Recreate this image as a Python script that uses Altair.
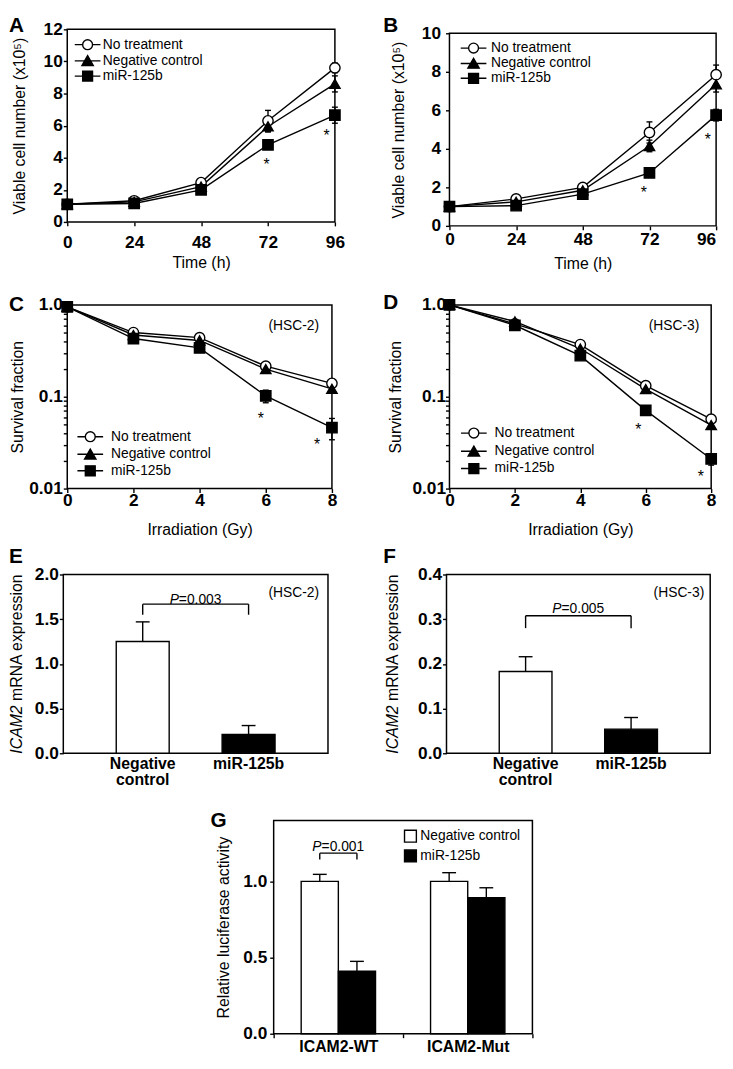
import altair as alt
import pandas as pd

FONT = "Liberation Sans"
LW = 1.4
ONE = pd.DataFrame({"k": [0]})

SERIES = ["No treatment", "Negative control", "miR-125b"]
SHAPES = ["circle", "triangle-up", "square"]
FILLS = ["white", "black", "black"]
LEG_PATHS = [
    "M-2.6,0H-1M1,0H2.6M-1,0A1,1,0,1,1,1,0A1,1,0,1,1,-1,0Z",
    "M-2.6,0H2.6M0,-1.05L1.15,0.95L-1.15,0.95Z",
    "M-2.6,0H2.6M-1,-1H1V1H-1Z",
]

# ---------------- Panel A ----------------
A_TIME = [0, 24, 48, 72, 96]
A_NT = [1.10, 1.32, 2.45, 6.30, 9.60]
A_NT_ERR = [0.05, 0.08, 0.12, 0.65, 0.30]
A_NC = [1.10, 1.25, 2.20, 5.95, 8.60]
A_NC_ERR = [0.05, 0.05, 0.10, 0.35, 0.50]
A_MIR = [1.10, 1.15, 2.00, 4.80, 6.65]
A_MIR_ERR = [0.05, 0.05, 0.10, 0.20, 0.50]
A_STAR_X = [71.5, 93.0]
A_STAR_Y = [3.85, 5.60]
A_Y_TICKS = [0, 2, 4, 6, 8, 10, 12]

# ---------------- Panel B ----------------
B_TIME = [0, 24, 48, 72, 96]
B_NT = [1.00, 1.40, 2.00, 4.85, 7.85]
B_NT_ERR = [0.05, 0.08, 0.10, 0.55, 0.50]
B_NC = [1.00, 1.25, 1.85, 4.15, 7.35]
B_NC_ERR = [0.05, 0.05, 0.10, 0.30, 0.40]
B_MIR = [1.00, 1.05, 1.65, 2.75, 5.75]
B_MIR_ERR = [0.05, 0.05, 0.10, 0.15, 0.30]
B_STAR_X = [70.0, 93.0]
B_STAR_Y = [1.95, 4.70]
B_Y_TICKS = [0, 2, 4, 6, 8, 10]
TIME_TICKS = [0, 24, 48, 72, 96]

# ---------------- Panel C ----------------
DOSE = [0, 2, 4, 6, 8]
C_NT = [0.95, 0.50, 0.44, 0.215, 0.140]
C_NT_ERR = [0.02, 0.03, 0.03, 0.015, 0.015]
C_NC = [0.95, 0.47, 0.41, 0.200, 0.122]
C_NC_ERR = [0.02, 0.02, 0.02, 0.012, 0.012]
C_MIR = [0.95, 0.43, 0.34, 0.102, 0.046]
C_MIR_ERR = [0.02, 0.02, 0.02, 0.016, 0.012]
C_STAR_X = [5.85, 7.55]
C_STAR_Y = [0.064, 0.033]

# ---------------- Panel D ----------------
D_NT = [1.00, 0.62, 0.37, 0.132, 0.057]
D_NT_ERR = [0.02, 0.02, 0.02, 0.008, 0.004]
D_NC = [1.00, 0.66, 0.335, 0.121, 0.049]
D_NC_ERR = [0.02, 0.02, 0.02, 0.008, 0.004]
D_MIR = [1.00, 0.60, 0.28, 0.071, 0.021]
D_MIR_ERR = [0.02, 0.02, 0.02, 0.005, 0.003]
D_STAR_X = [5.77, 7.68]
D_STAR_Y = [0.049, 0.0149]
DOSE_TICKS = [0, 2, 4, 6, 8]
LOG_TICKS = [0.01, 0.02, 0.03, 0.04, 0.05, 0.06, 0.07, 0.08, 0.09,
             0.1, 0.2, 0.3, 0.4, 0.5, 0.6, 0.7, 0.8, 0.9, 1.0]
LOG_LABEL_EXPR = ("datum.value > 0.95 ? '1.0' : (abs(datum.value - 0.1) < 0.001 ? '0.1' : "
                  "(abs(datum.value - 0.01) < 0.0001 ? '0.01' : ''))")

# ---------------- Panels E / F ----------------
EF_CATS = ["Negative control", "miR-125b"]
E_VALS = [1.25, 0.21]
E_ERRS = [0.22, 0.10]
E_BRACKET = [1.55, 1.668]   # leg bottom, bracket top
E_P_Y = 1.71
E_Y_TICKS = [0.0, 0.5, 1.0, 1.5, 2.0]
F_VALS = [0.183, 0.054]
F_ERRS = [0.033, 0.026]
F_BRACKET = [0.280, 0.3077]
F_P_Y = 0.3225
F_Y_TICKS = [0.0, 0.1, 0.2, 0.3, 0.4]

# ---------------- Panel G ----------------
G_GROUPS = ["ICAM2-WT", "ICAM2-Mut"]
G_SERIES = ["Negative control", "miR-125b"]
G_WT = [1.00, 0.41]
G_WT_ERR = [0.046, 0.065]
G_MUT = [1.00, 0.893]
G_MUT_ERR = [0.057, 0.065]
G_BRACKET = [1.143, 1.185]
G_P_Y = 1.228
G_Y_TICKS = [0.0, 0.5, 1.0]


def long_df(xs, vals, errs):
    rows = []
    for s, v, e in zip(SERIES, vals, errs):
        for x, y, d in zip(xs, v, e):
            rows.append({"x": x, "y": y, "lo": y - d, "hi": y + d, "series": s})
    return pd.DataFrame(rows)


def text_layer(text, x, y, size=14, align="left", baseline="alphabetic",
               weight="normal", style="normal", angle=0):
    kw = dict(text=text, font=FONT, fontSize=size, align=align, baseline=baseline,
              fontWeight=weight, fontStyle=style, color="black")
    if angle:
        kw["angle"] = angle
    return alt.Chart(ONE).mark_text(**kw).encode(x=alt.value(x), y=alt.value(y))


def anchor_layer(x, y):
    return alt.Chart(ONE).mark_point(size=0, opacity=0).encode(x=alt.value(x), y=alt.value(y))


def spacer(w, h):
    return (alt.Chart(ONE).mark_point(size=0, opacity=0)
            .encode(x=alt.value(0), y=alt.value(0))
            .properties(width=w, height=h, view=alt.ViewBackground(stroke="transparent")))


def line_panel(xs, vals, errs, star_x, star_y, xdom, xvals, xtitle, ydom, yvals, ylog,
               ytitle, w, h, xlp, xty, ylp, ytx, leg, letter, lpos, hsc=None, anchor=None,
               last_right=False):
    df = long_df(xs, vals, errs)
    sdf = pd.DataFrame({"x": star_x, "y": star_y})
    xscale = alt.Scale(domain=xdom, nice=False, zero=False)
    if ylog:
        yscale = alt.Scale(type="log", domain=ydom, nice=False)
        yextra = {"labelExpr": LOG_LABEL_EXPR}
    else:
        yscale = alt.Scale(domain=ydom, nice=False, zero=False)
        yextra = {"format": "d"}
    xextra = {}
    if last_right:
        # the last tick label is drawn by its own right-aligned text mark below,
        # so that it stays inside the page
        xextra["labelExpr"] = f"datum.value >= {xdom[1]} ? '' : datum.label"
    xaxis = alt.Axis(values=xvals, format="d", title=xtitle, labelPadding=xlp,
                     titleX=w / 2, titleY=xty, labelFlush=False, labelOverlap=False, **xextra)
    yaxis = alt.Axis(values=yvals, title=ytitle, labelPadding=ylp, titleX=ytx,
                     titleY=h / 2, labelOverlap=False, labelFlush=False, **yextra)

    def X(f):
        return alt.X(f"{f}:Q", scale=xscale, axis=xaxis)

    def Y(f):
        return alt.Y(f"{f}:Q", scale=yscale, axis=yaxis)

    legend = alt.Legend(title=None, orient="none", legendX=leg[0], legendY=leg[1],
                        labelFont=FONT, labelFontSize=14, labelColor="black",
                        symbolSize=100, symbolStrokeWidth=LW, symbolStrokeColor="black",
                        labelOffset=leg[2], rowPadding=leg[3], padding=0)
    base = alt.Chart(df)
    layers = [
        base.mark_line(color="black", strokeWidth=LW).encode(X("x"), Y("y"), detail="series:N"),
        base.mark_rule(color="black", strokeWidth=LW).encode(X("x"), Y("lo"), y2="hi:Q"),
        base.mark_tick(color="black", thickness=LW, size=6, opacity=1, orient="horizontal")
            .encode(X("x"), Y("hi")),
        base.mark_tick(color="black", thickness=LW, size=6, opacity=1, orient="horizontal")
            .encode(X("x"), Y("lo")),
        base.mark_point(filled=True, opacity=1, stroke="black", strokeWidth=LW, size=110).encode(
            X("x"), Y("y"),
            shape=alt.Shape("series:N", scale=alt.Scale(domain=SERIES, range=SHAPES), legend=None),
            fill=alt.Fill("series:N", scale=alt.Scale(domain=SERIES, range=FILLS), legend=None),
        ),
        alt.Chart(sdf).mark_text(text="*", font=FONT, fontSize=16, color="black",
                                 baseline="middle", dy=4.5).encode(X("x"), Y("y")),
        base.transform_filter("false").mark_point(filled=True, opacity=1, strokeWidth=LW).encode(
            shape=alt.Shape("series:N", scale=alt.Scale(domain=SERIES, range=LEG_PATHS), legend=legend),
            fill=alt.Fill("series:N", scale=alt.Scale(domain=SERIES, range=FILLS), legend=legend),
            stroke=alt.Stroke("series:N", scale=alt.Scale(domain=SERIES, range=["black"] * 3),
                              legend=legend),
        ),
        text_layer(letter, lpos[0], lpos[1], size=21, weight="bold"),
    ]
    if last_right:
        ldf = pd.DataFrame({"x": [xvals[-1]], "lab": [str(xvals[-1])]})
        layers.append(
            alt.Chart(ldf).mark_text(font=FONT, fontSize=17.5, fontWeight="bold", color="black",
                                     align="right", baseline="top")
            .encode(X("x"), y=alt.value(h + 4 + xlp), text="lab:N"))
    if hsc:
        layers.append(text_layer(hsc[0], hsc[1], hsc[2], size=14, align="right", baseline="middle"))
    if anchor:
        layers.append(anchor_layer(anchor[0], anchor[1]))
    return (alt.layer(*layers)
            .resolve_scale(shape="independent", fill="independent", stroke="independent")
            .properties(width=w, height=h))


def bar_panel(vals, errs, bracket, p_y, p_num, ydom, yvals, w, h, ylp, letter, lpos,
              hsc, yt_xb):
    cats = EF_CATS
    df = pd.DataFrame({"cat": cats, "val": vals, "hi": [v + e for v, e in zip(vals, errs)]})
    xscale = alt.Scale(domain=cats, paddingInner=0.5, paddingOuter=0.5)
    xaxis = alt.Axis(title=None, ticks=False, labelAngle=0, labelExpr="split(datum.label, ' ')",
                     labelPadding=2, labelFontSize=16, labelLineHeight=17)
    yscale = alt.Scale(domain=ydom, nice=False, zero=True)
    yaxis = alt.Axis(values=yvals, format=".1f", title=None, labelPadding=ylp, labelOverlap=False)

    def X(f):
        return alt.X(f"{f}:N", scale=xscale, axis=xaxis)

    def Y(f, **kw):
        return alt.Y(f"{f}:Q", scale=yscale, axis=yaxis, **kw)

    bdf = pd.DataFrame({"c1": [cats[0]], "c2": [cats[1]], "top": [bracket[1]]})
    ldf = pd.DataFrame({"cat": cats, "leg": [bracket[0]] * 2, "top": [bracket[1]] * 2})
    pdf = pd.DataFrame({"cat": [cats[0]], "py": [p_y]})
    step = w / 2.5
    split = step / 2 - 17
    layers = [
        alt.Chart(df).mark_bar(stroke="black", strokeWidth=LW).encode(
            X("cat"), Y("val", stack=False),
            fill=alt.Fill("cat:N", scale=alt.Scale(domain=cats, range=["white", "black"]), legend=None)),
        alt.Chart(df).mark_rule(color="black", strokeWidth=LW).encode(X("cat"), Y("val"), y2="hi:Q"),
        alt.Chart(df).mark_tick(color="black", thickness=LW, size=14, opacity=1, orient="horizontal")
            .encode(X("cat"), Y("hi")),
        alt.Chart(bdf).mark_rule(color="black", strokeWidth=LW).encode(X("c1"), x2="c2:N", y=Y("top")),
        alt.Chart(ldf).mark_rule(color="black", strokeWidth=LW).encode(X("cat"), Y("leg"), y2="top:Q"),
        alt.Chart(pdf).mark_text(text="P", font=FONT, fontSize=14, fontStyle="italic", align="right",
                                 dx=split, color="black").encode(X("cat"), Y("py")),
        alt.Chart(pdf).mark_text(text=p_num, font=FONT, fontSize=14, align="left",
                                 dx=split, color="black").encode(X("cat"), Y("py")),
        text_layer(hsc[0], hsc[1], hsc[2], size=14, align="right", baseline="middle"),
        text_layer(letter, lpos[0], lpos[1], size=21, weight="bold"),
        text_layer("ICAM2", yt_xb, h / 2 + 42, size=16, align="right", style="italic", angle=270),
        text_layer("mRNA expression", yt_xb, h / 2 + 37.5, size=16, align="left", angle=270),
    ]
    return alt.layer(*layers).properties(width=w, height=h)


def g_panel(w, h):
    rows = []
    for g, vs, es in zip(G_GROUPS, [G_WT, G_MUT], [G_WT_ERR, G_MUT_ERR]):
        for s, v, e in zip(G_SERIES, vs, es):
            rows.append({"grp": g, "series": s, "val": v, "hi": v + e})
    df = pd.DataFrame(rows)
    po = 0.74
    xscale = alt.Scale(domain=G_GROUPS, paddingInner=0, paddingOuter=0)
    xaxis = alt.Axis(title=None, tickBand="extent", labelAngle=0, labelPadding=1, labelFontSize=16)
    oscale = alt.Scale(domain=G_SERIES, paddingInner=0, paddingOuter=po)
    yscale = alt.Scale(domain=[0, 1.4], nice=False, zero=True)
    yaxis = alt.Axis(values=G_Y_TICKS, format=".1f", title="Relative luciferase activity",
                     labelPadding=3, titleX=-43, titleY=h / 2, labelOverlap=False)
    X = alt.X("grp:N", scale=xscale, axis=xaxis)
    XO = alt.XOffset("series:N", scale=oscale)

    def Y(f, **kw):
        return alt.Y(f"{f}:Q", scale=yscale, axis=yaxis, **kw)

    off_step = (w / 2) / (2 + 2 * po)
    legend = alt.Legend(title=None, orient="none", legendX=131.5, legendY=9, symbolType="square",
                        symbolSize=144, symbolStrokeColor="black", symbolStrokeWidth=LW,
                        labelFont=FONT, labelFontSize=14, labelColor="black",
                        labelOffset=3, rowPadding=2, padding=0)
    wt = df[df["grp"] == G_GROUPS[0]].copy()
    wt["leg"] = G_BRACKET[0]
    wt["top"] = G_BRACKET[1]
    bdf = pd.DataFrame({"grp": [G_GROUPS[0]], "top": [G_BRACKET[1]], "py": [G_P_Y]})
    split = -17
    layers = [
        alt.Chart(df).mark_bar(stroke="black", strokeWidth=LW).encode(
            X, XO, Y("val", stack=False),
            fill=alt.Fill("series:N", scale=alt.Scale(domain=G_SERIES, range=["white", "black"]),
                          legend=legend)),
        alt.Chart(df).mark_rule(color="black", strokeWidth=LW).encode(X, XO, Y("val"), y2="hi:Q"),
        alt.Chart(df).mark_tick(color="black", thickness=LW, size=14, opacity=1, orient="horizontal")
            .encode(X, XO, Y("hi")),
        alt.Chart(bdf).mark_tick(color="black", thickness=LW, size=off_step, opacity=1,
                                 orient="horizontal").encode(X, Y("top")),
        alt.Chart(wt).mark_rule(color="black", strokeWidth=LW).encode(X, XO, Y("leg"), y2="top:Q"),
        alt.Chart(bdf).mark_text(text="P", font=FONT, fontSize=14, fontStyle="italic", align="right",
                                 dx=split, color="black").encode(X, Y("py")),
        alt.Chart(bdf).mark_text(text="=0.001", font=FONT, fontSize=14, align="left",
                                 dx=split, color="black").encode(X, Y("py")),
        text_layer("G", -64, 7, size=21, weight="bold"),
    ]
    return alt.layer(*layers).properties(width=w, height=h)


YT_AB = "Viable cell number (x10\u2075)"

A = line_panel(A_TIME, [A_NT, A_NC, A_MIR], [A_NT_ERR, A_NC_ERR, A_MIR_ERR], A_STAR_X, A_STAR_Y,
               [0, 96], TIME_TICKS, "Time (h)", [0, 12], A_Y_TICKS, False, YT_AB,
               271, 195, xlp=8, xty=33, ylp=1, ytx=-40, leg=(13.6, 8.5, 8.4, -0.55),
               letter="A", lpos=(-59, 3), anchor=(-59, -14))
B = line_panel(B_TIME, [B_NT, B_NC, B_MIR], [B_NT_ERR, B_NC_ERR, B_MIR_ERR], B_STAR_X, B_STAR_Y,
               [0, 96], TIME_TICKS, "Time (h)", [0, 10], B_Y_TICKS, False, YT_AB,
               270, 195, xlp=1, xty=30, ylp=5, ytx=-44, leg=(17.4, 8.0, 10.6, -1.45),
               letter="B", lpos=(-67, -1), last_right=True)
C = line_panel(DOSE, [C_NT, C_NC, C_MIR], [C_NT_ERR, C_NC_ERR, C_MIR_ERR], C_STAR_X, C_STAR_Y,
               [0, 8], DOSE_TICKS, "Irradiation (Gy)", [0.01, 1.0], LOG_TICKS, True,
               "Survival fraction", 268, 186, xlp=-1, xty=33, ylp=1, ytx=-42,
               leg=(16.3, 126.5, 14, 0.75), letter="C", lpos=(-59, 6), hsc=("(HSC-2)", 255, 21))
D = line_panel(DOSE, [D_NT, D_NC, D_MIR], [D_NT_ERR, D_NC_ERR, D_MIR_ERR], D_STAR_X, D_STAR_Y,
               [0, 8], DOSE_TICKS, "Irradiation (Gy)", [0.01, 1.0], LOG_TICKS, True,
               "Survival fraction", 265, 186, xlp=-1, xty=33, ylp=0, ytx=-47,
               leg=(17.7, 122.8, 14, 1.45), letter="D", lpos=(-67, 4), hsc=("(HSC-3)", 253, 21))
E = bar_panel(E_VALS, E_ERRS, E_BRACKET, E_P_Y, "=0.003", [0, 2], E_Y_TICKS, 268, 181, ylp=1,
              letter="E", lpos=(-55, -12), hsc=("(HSC-2)", 259, 19), yt_xb=-42)
F = bar_panel(F_VALS, F_ERRS, F_BRACKET, F_P_Y, "=0.005", [0, 0.4], F_Y_TICKS, 267, 181, ylp=1,
              letter="F", lpos=(-64, -12), hsc=("(HSC-3)", 261, 19), yt_xb=-49)
G = g_panel(262, 216)

RES = dict(shape="independent", fill="independent", stroke="independent")


def hcat(*charts):
    return (alt.hconcat(*charts, spacing=0, bounds="flush")
            .resolve_scale(**RES).resolve_legend(**RES))


row1 = hcat(spacer(4, 1), A, spacer(116, 1),
            alt.vconcat(spacer(1, 4), B, spacing=0, bounds="flush")
            .resolve_scale(**RES).resolve_legend(**RES))
row2 = hcat(spacer(4, 1), C, spacer(119, 1), D)
row3 = hcat(E, spacer(120, 1), F)
row4 = hcat(spacer(213, 1), G)

# nested rows count as zero height in a flush layout, so the spacers carry
# the full distance from one row's plot top to the next row's plot top
chart = (alt.vconcat(row1, spacer(1, 279), row2, spacer(1, 273), row3, spacer(1, 249), row4,
                     spacing=0, bounds="flush")
         .resolve_scale(**RES).resolve_legend(**RES)
         .properties(padding=0, background="white")
         .configure_view(stroke="black", strokeWidth=1.5)
         .configure_axis(labelFont=FONT, titleFont=FONT, labelFontSize=17.5, labelFontWeight="bold",
                         titleFontSize=16, titleFontWeight="normal", labelColor="black",
                         titleColor="black", tickColor="black", tickWidth=LW, tickSize=4,
                         domain=False, grid=False, labelOverlap=False)
         .configure_legend(labelFont=FONT, labelColor="black"))

chart.save("out.html", embed_options={"renderer": "svg", "actions": False})
